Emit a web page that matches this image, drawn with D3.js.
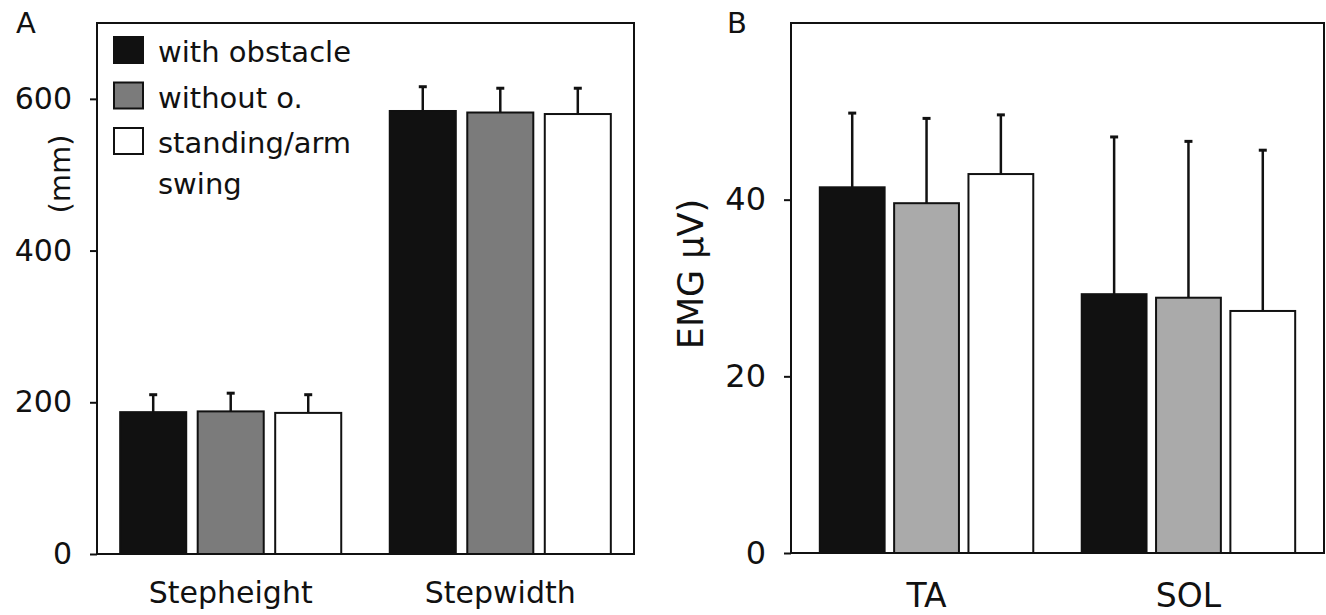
<!DOCTYPE html>
<html>
<head>
<meta charset="utf-8">
<script src="https://cdn.jsdelivr.net/npm/d3@7"></script>
<style>
body { margin: 0; background: #fff; }
svg text { font-family: "DejaVu Sans", sans-serif; fill: #111; }
.axis path { display: none; }
.axis line { stroke: #111; stroke-width: 2; }
</style>
</head>
<body>
<svg width="1326" height="615"></svg>
<script>
// legend / series
var series = ['with obstacle', 'without o.', 'standing/arm\nswing'];
var colorsA = ['#111111', '#7b7b7b', '#ffffff'];
var colorsB = ['#111111', '#aaaaaa', '#ffffff'];

// panel A - step parameters (mm)
var catsA = ['Stepheight', 'Stepwidth'];
var meanA = [[187, 188, 186], [584, 582, 580]];
var errA = [[23, 24, 24], [32, 32, 34]];
var ticksA = [0, 200, 400, 600];

// panel B - EMG (µV)
var catsB = ['TA', 'SOL'];
var meanB = [[41.4, 39.6, 42.9], [29.3, 28.9, 27.4]];
var errB = [[8.4, 9.6, 6.7], [17.8, 17.7, 18.2]];
var ticksB = [0, 20, 40];

var svg = d3.select('svg');

function drawPanel(p) {
    var x0 = d3.scaleBand().domain(p.cats).range([p.left, p.right])
        .paddingInner(p.padIn).paddingOuter(p.padOut);
    var x1 = d3.scaleBand().domain(d3.range(series.length)).range([0, x0.bandwidth()])
        .paddingInner(p.barPad).paddingOuter(0);
    var y = d3.scaleLinear().domain([0, p.yMax]).range([p.bottom, p.top]);

    var g = svg.append('g');

    // frame
    g.append('rect')
        .attr('x', p.left).attr('y', p.top)
        .attr('width', p.right - p.left).attr('height', p.bottom - p.top)
        .attr('fill', 'none').attr('stroke', '#111').attr('stroke-width', 2);

    // y axis
    var ax = g.append('g').attr('class', 'axis')
        .attr('transform', 'translate(' + p.left + ',0)')
        .call(d3.axisLeft(y).tickValues(p.ticks).tickSize(7).tickPadding(18));
    ax.selectAll('text').style('font-size', p.tickFont + 'px').attr('fill', '#111');

    var groups = g.selectAll('.grp')
        .data(p.cats)
        .enter().append('g')
        .attr('class', 'grp')
        .attr('transform', function(d) { return 'translate(' + x0(d) + ',0)'; });

    groups.each(function(c, ci) {
        var grp = d3.select(this);
        var rows = p.mean[ci].map(function(v, i) { return {i: i, v: v, e: p.err[ci][i]}; });

        // error bars (upper only)
        grp.selectAll('.err').data(rows).enter().append('line')
            .attr('x1', function(d) { return x1(d.i) + x1.bandwidth() / 2; })
            .attr('x2', function(d) { return x1(d.i) + x1.bandwidth() / 2; })
            .attr('y1', function(d) { return y(d.v); })
            .attr('y2', function(d) { return y(d.v + d.e); })
            .attr('stroke', '#111').attr('stroke-width', 2.5);
        grp.selectAll('.cap').data(rows).enter().append('line')
            .attr('x1', function(d) { return x1(d.i) + x1.bandwidth() / 2 - 4; })
            .attr('x2', function(d) { return x1(d.i) + x1.bandwidth() / 2 + 4; })
            .attr('y1', function(d) { return y(d.v + d.e); })
            .attr('y2', function(d) { return y(d.v + d.e); })
            .attr('stroke', '#111').attr('stroke-width', 3);

        grp.selectAll('.bar').data(rows).enter().append('rect')
            .attr('x', function(d) { return x1(d.i); })
            .attr('y', function(d) { return y(d.v); })
            .attr('width', x1.bandwidth())
            .attr('height', function(d) { return y(0) - y(d.v); })
            .attr('fill', function(d) { return p.colors[d.i]; })
            .attr('stroke', '#111').attr('stroke-width', 2);
    });

    // category labels
    g.selectAll('.cat').data(p.cats).enter().append('text')
        .attr('x', function(d) { return x0(d) + x0.bandwidth() / 2; })
        .attr('y', p.catY)
        .attr('text-anchor', 'middle')
        .style('font-size', p.catFont + 'px')
        .text(function(d) { return d; });

    // y label
    g.append('text')
        .attr('transform', 'translate(' + p.yLabX + ',' + p.yLabY + ') rotate(-90)')
        .attr('text-anchor', 'middle')
        .style('font-size', p.yLabFont + 'px')
        .text(p.yLabel);

    // panel letter
    g.append('text')
        .attr('x', p.letterX).attr('y', 33)
        .style('font-size', '29px')
        .text(p.letter);

    return g;
}

var gA = drawPanel({
    cats: catsA, mean: meanA, err: errA, ticks: ticksA, colors: colorsA,
    left: 97, right: 634, top: 23, bottom: 554, yMax: 700,
    padIn: 0.18, padOut: 0.086, barPad: 0.148,
    tickFont: 30, catFont: 30, catY: 603,
    yLabel: '(mm)', yLabX: 70, yLabY: 174, yLabFont: 29,
    letter: 'A', letterX: 16
});

drawPanel({
    cats: catsB, mean: meanB, err: errB, ticks: ticksB, colors: colorsB,
    left: 791, right: 1324, top: 23, bottom: 553, yMax: 60,
    padIn: 0.185, padOut: 0.11, barPad: 0.128,
    tickFont: 32, catFont: 33, catY: 607,
    yLabel: 'EMG \u00b5V)', yLabX: 703, yLabY: 274, yLabFont: 35,
    letter: 'B', letterX: 727
});

// legend (panel A)
var legend = gA.append('g').attr('transform', 'translate(114,37)');
var items = legend.selectAll('.leg').data(series).enter().append('g')
    .attr('transform', function(d, i) { return 'translate(0,' + (i * 45.5) + ')'; });
items.append('rect')
    .attr('width', 29).attr('height', 26)
    .attr('fill', function(d, i) { return colorsA[i]; })
    .attr('stroke', '#111').attr('stroke-width', 2);
items.append('text')
    .attr('x', 44).attr('y', 25)
    .style('font-size', '29px')
    .selectAll('tspan')
    .data(function(d) { return d.split('\n'); })
    .enter().append('tspan')
    .attr('x', 44)
    .attr('dy', function(d, i) { return i === 0 ? 0 : 41; })
    .text(function(d) { return d; });
</script>
</body>
</html>
